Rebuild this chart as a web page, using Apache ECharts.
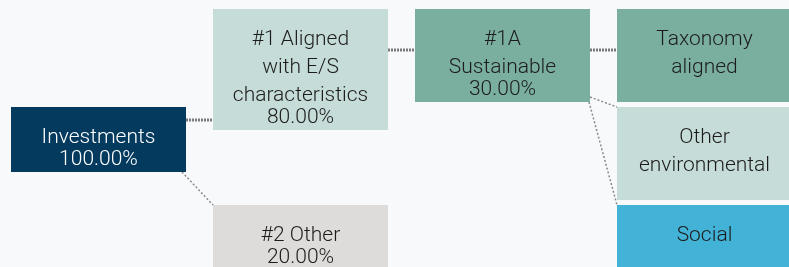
<!DOCTYPE html>
<html>
<head>
    <meta charset="utf-8">
    <title>ECharts</title>
    <script src="https://cdn.jsdelivr.net/npm/echarts@6/dist/echarts.min.js"></script>
    <style>
        html, body { margin: 0; padding: 0; background: #f8f9fb; }
    </style>
</head>
<body>
    <div id="main" style="width: 789px;height:267px;"></div>
    <script type="text/javascript">
var myChart = echarts.init(document.getElementById('main'));

// nodes of the tree
var labels = ['Investments', '#1 Aligned\nwith E/S\ncharacteristics', '#2 Other', '#1A\nSustainable',
    'Taxonomy\naligned', 'Other\nenvironmental', 'Social'];
var shares = [100, 80, 20, 30, null, null, null];
var levels = [0, 1, 1, 2, 3, 3, 3];
var slots = [1, 0, 2, 0, 0, 1, 2];
// parent -> child
var links = [[0, 1], [0, 2], [1, 3], [3, 4], [3, 5], [3, 6]];

// look of the boxes
var colPitch = 202, rowPitch = 98;
var boxW = 175;
var boxH = [65, 121, 93, 93, 93, 93, 93];
var boxFill = ['#053a5f', '#c6dcd8', '#dedcda', '#7aaf9f', '#7aaf9f', '#c6dcd8', '#42b3d6'];
var boxText = ['#ffffff', '#1c1c1c', '#1c1c1c', '#1c1c1c', '#1c1c1c', '#1c1c1c', '#1c1c1c'];
// where each connector leaves the parent (px from its top-left corner)
var linkFrom = [[175, 13], [171, 65], [175, 41], [175, 41], [175, 88], [174, 93]];
var linkKind = ['h', 'd', 'h', 'h', 'd', 'd'];

var font = 'Roboto, "Helvetica Neue", Arial, sans-serif';

var nodeData = labels.map(function (l, i) { return [levels[i], slots[i], i]; });
var linkData = links.map(function (lk, i) {
    return [levels[lk[0]], slots[lk[0]], levels[lk[1]], slots[lk[1]], i];
});

var option = {
    backgroundColor: '#f8f9fb',
    animation: false,
    grid: { left: 11, top: 9, right: 0, bottom: 0 },
    xAxis: { type: 'value', min: 0, max: (789 - 11) / colPitch, show: false },
    yAxis: { type: 'value', min: 0, max: (267 - 9) / rowPitch, inverse: true, show: false },
    series: [{
        type: 'custom',
        clip: false,
        data: linkData,
        z: 1,
        renderItem: function (params, api) {
            var i = api.value(4);
            var s = api.coord([api.value(0), api.value(1)]);
            var t = api.coord([api.value(2), api.value(3)]);
            var x1 = s[0] + linkFrom[i][0], y1 = s[1] + linkFrom[i][1];
            var x2, y2, style;
            if (linkKind[i] === 'h') {
                x2 = t[0]; y2 = y1;
                style = { stroke: '#7a7a7a', lineWidth: 3, lineDash: [2, 1], fill: null };
            } else {
                x2 = t[0]; y2 = t[1];
                style = { stroke: '#8a8a8a', lineWidth: 1.5, lineDash: [2, 2], fill: null };
            }
            return { type: 'line', shape: { x1: x1, y1: y1, x2: x2, y2: y2 }, style: style };
        }
    }, {
        type: 'custom',
        clip: false,
        data: nodeData,
        z: 2,
        renderItem: function (params, api) {
            var i = api.value(2);
            var p = api.coord([api.value(0), api.value(1)]);
            var txt = labels[i].split('\n').map(function (l) { return '{t|' + l + '}'; }).join('\n');
            if (shares[i] != null) txt += '\n{v|' + shares[i].toFixed(2) + '%}';
            var rich = {
                t: { fontSize: 21, lineHeight: 28, fontFamily: font, fontWeight: 300, fill: boxText[i] },
                v: { fontSize: 21, lineHeight: 16, fontFamily: font, fontWeight: 300, fill: boxText[i] }
            };
            return {
                type: 'group',
                children: [{
                    type: 'rect',
                    shape: { x: p[0], y: p[1], width: boxW, height: boxH[i] },
                    style: { fill: boxFill[i] }
                }, {
                    type: 'text',
                    style: {
                        x: p[0] + boxW / 2,
                        y: p[1] + 17,
                        text: txt,
                        rich: rich,
                        align: 'center',
                        verticalAlign: 'top',
                        fill: boxText[i]
                    }
                }]
            };
        }
    }]
};
myChart.setOption(option);
    </script>
</body>
</html>
